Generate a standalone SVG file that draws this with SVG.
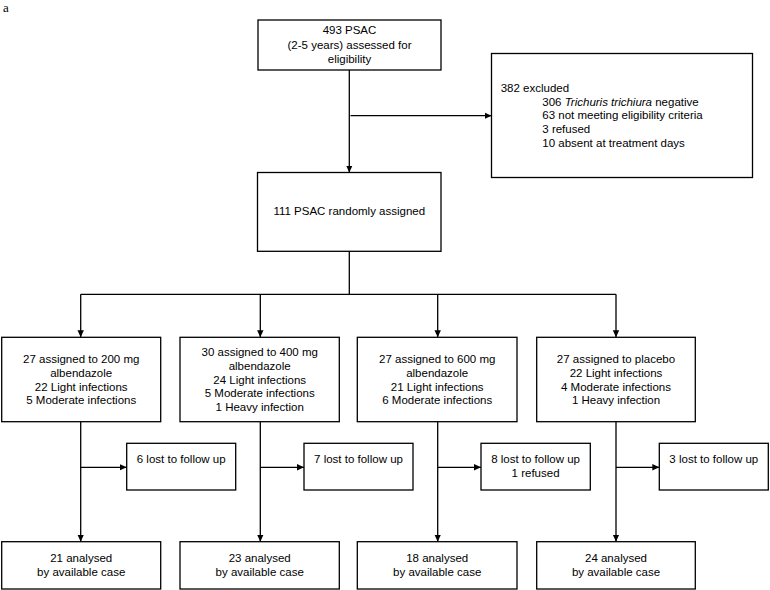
<svg xmlns="http://www.w3.org/2000/svg" width="770" height="590" viewBox="0 0 770 590">
<style>
  .box{fill:#fff;stroke:#000;stroke-width:1.3}
  .t{font-family:"Liberation Sans",Arial,sans-serif;font-size:11.5px;fill:#000}
  .c{text-anchor:middle}
  .ln{fill:none;stroke:#000;stroke-width:1.3}
  .lbl{font-family:"Liberation Serif","Times New Roman",serif;font-size:13px;fill:#000}
</style>
<defs>
  <marker id="ah" markerUnits="userSpaceOnUse" markerWidth="8" markerHeight="8" viewBox="0 0 8 8" refX="7" refY="4" orient="auto">
    <path d="M0,0.8 L7,4 L0,7.2 Z" fill="#000"/>
  </marker>
</defs>
<rect width="770" height="590" fill="#fff"/>
<text class="lbl" x="3" y="11.8">a</text>

<g id="connectors">
  <path class="ln" d="M349.3,70 V172.5" marker-end="url(#ah)"/>
  <path class="ln" d="M350.5,115.7 H491.5" marker-end="url(#ah)"/>
  <path class="ln" d="M349.3,251.3 V294.3"/>
  <path class="ln" d="M80.7,294.3 H616"/>
  <path class="ln" d="M80.7,294.3 V337.3" marker-end="url(#ah)"/>
  <path class="ln" d="M260.3,294.3 V337.3" marker-end="url(#ah)"/>
  <path class="ln" d="M437.7,294.3 V337.3" marker-end="url(#ah)"/>
  <path class="ln" d="M616,294.3 V337.3" marker-end="url(#ah)"/>
  <path class="ln" d="M80.7,421.7 V541.7" marker-end="url(#ah)"/>
  <path class="ln" d="M260.3,421.7 V541.7" marker-end="url(#ah)"/>
  <path class="ln" d="M437.7,421.7 V541.7" marker-end="url(#ah)"/>
  <path class="ln" d="M616,421.7 V541.7" marker-end="url(#ah)"/>
  <path class="ln" d="M80.7,467.3 H126.7" marker-end="url(#ah)"/>
  <path class="ln" d="M260.3,467.3 H304" marker-end="url(#ah)"/>
  <path class="ln" d="M437.7,467.3 H481" marker-end="url(#ah)"/>
  <path class="ln" d="M616,467.3 H659.3" marker-end="url(#ah)"/>
</g>

<g id="assessed">
  <rect class="box" x="258" y="20" width="183" height="50"/>
  <text class="t c" x="349.5" y="34">493 PSAC</text>
  <text class="t c" x="349.5" y="48.7">(2-5 years) assessed for</text>
  <text class="t c" x="349.5" y="63.2">eligibility</text>
</g>

<g id="excluded">
  <rect class="box" x="491.5" y="53.5" width="261" height="124"/>
  <text class="t" x="500.7" y="91.7">382 excluded</text>
  <text class="t" x="542.3" y="105.5">306 <tspan font-style="italic">Trichuris trichiura</tspan> negative</text>
  <text class="t" x="542.3" y="119.3">63 not meeting eligibility criteria</text>
  <text class="t" x="542.3" y="133">3 refused</text>
  <text class="t" x="542.3" y="146.8">10 absent at treatment days</text>
</g>

<g id="randomised">
  <rect class="box" x="257.5" y="172.5" width="183.5" height="78.8"/>
  <text class="t c" x="349.3" y="215">111 PSAC randomly assigned</text>
</g>

<g id="arm200">
  <rect class="box" x="1.7" y="337.3" width="159" height="84.4"/>
  <text class="t c" x="81.2" y="362.7">27 assigned to 200 mg</text>
  <text class="t c" x="81.2" y="376.6">albendazole</text>
  <text class="t c" x="81.2" y="390.5">22 Light infections</text>
  <text class="t c" x="81.2" y="404.4">5 Moderate infections</text>
</g>

<g id="arm400">
  <rect class="box" x="180" y="337.3" width="159.3" height="84.4"/>
  <text class="t c" x="259.7" y="355.7">30 assigned to 400 mg</text>
  <text class="t c" x="259.7" y="369.6">albendazole</text>
  <text class="t c" x="259.7" y="383.5">24 Light infections</text>
  <text class="t c" x="259.7" y="397.4">5 Moderate infections</text>
  <text class="t c" x="259.7" y="411.3">1 Heavy infection</text>
</g>

<g id="arm600">
  <rect class="box" x="357.3" y="337.3" width="159.7" height="84.4"/>
  <text class="t c" x="437.2" y="362.7">27 assigned to 600 mg</text>
  <text class="t c" x="437.2" y="376.6">albendazole</text>
  <text class="t c" x="437.2" y="390.5">21 Light infections</text>
  <text class="t c" x="437.2" y="404.4">6 Moderate infections</text>
</g>

<g id="armPlacebo">
  <rect class="box" x="536.7" y="337.3" width="158.6" height="84.4"/>
  <text class="t c" x="616" y="362.7">27 assigned to placebo</text>
  <text class="t c" x="616" y="376.6">22 Light infections</text>
  <text class="t c" x="616" y="390.5">4 Moderate infections</text>
  <text class="t c" x="616" y="404.4">1 Heavy infection</text>
</g>

<g id="lost200">
  <rect class="box" x="126.7" y="443.3" width="109" height="46.7"/>
  <text class="t c" x="181.2" y="462.7">6 lost to follow up</text>
</g>
<g id="lost400">
  <rect class="box" x="304" y="443.3" width="109" height="46.7"/>
  <text class="t c" x="358.5" y="462.7">7 lost to follow up</text>
</g>
<g id="lost600">
  <rect class="box" x="481" y="443.3" width="109.3" height="46.7"/>
  <text class="t c" x="535.6" y="462.7">8 lost to follow up</text>
  <text class="t c" x="535.6" y="476.5">1 refused</text>
</g>
<g id="lostPlacebo">
  <rect class="box" x="659.3" y="443.3" width="109" height="46.7"/>
  <text class="t c" x="713.8" y="462.7">3 lost to follow up</text>
</g>

<g id="analysed200">
  <rect class="box" x="1.7" y="541.7" width="159" height="47.3"/>
  <text class="t c" x="81.2" y="561.7">21 analysed</text>
  <text class="t c" x="81.2" y="575.6">by available case</text>
</g>
<g id="analysed400">
  <rect class="box" x="180" y="541.7" width="159.3" height="47.3"/>
  <text class="t c" x="259.7" y="561.7">23 analysed</text>
  <text class="t c" x="259.7" y="575.6">by available case</text>
</g>
<g id="analysed600">
  <rect class="box" x="357.3" y="541.7" width="159.7" height="47.3"/>
  <text class="t c" x="437.2" y="561.7">18 analysed</text>
  <text class="t c" x="437.2" y="575.6">by available case</text>
</g>
<g id="analysedPlacebo">
  <rect class="box" x="536.7" y="541.7" width="158.6" height="47.3"/>
  <text class="t c" x="616" y="561.7">24 analysed</text>
  <text class="t c" x="616" y="575.6">by available case</text>
</g>
</svg>
